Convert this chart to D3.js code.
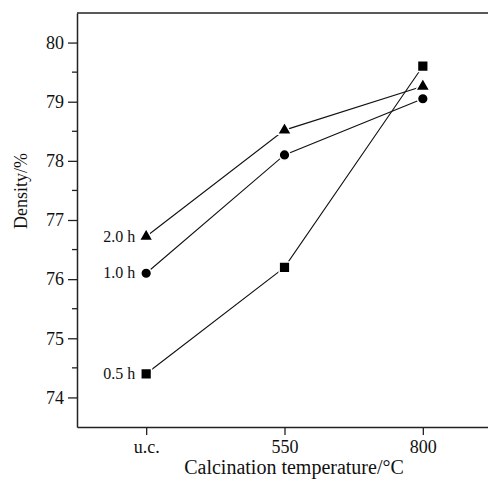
<!DOCTYPE html>
<html>
<head>
<meta charset="utf-8">
<script src="https://cdn.jsdelivr.net/npm/d3@7"></script>
<style>
    body { margin: 0; background: #fff; }
    svg { display: block; }
    text { font-family: "Liberation Serif", "DejaVu Serif", serif; fill: #111; }
</style>
</head>
<body>
<div id="chart"></div>
<script>
const temps = ["u.c.", "550", "800"];
const yTicks = [74, 75, 76, 77, 78, 79, 80];
const yMinorTicks = [74.5, 75.5, 76.5, 77.5, 78.5, 79.5];

const seriesNames = ["0.5 h", "1.0 h", "2.0 h"];
const density05 = [74.4, 76.2, 79.6];
const density10 = [76.1, 78.1, 79.05];
const density20 = [76.72, 78.52, 79.26];

const series = [
    { name: seriesNames[0], values: density05, symbol: d3.symbolSquare, size: 115 },
    { name: seriesNames[1], values: density10, symbol: d3.symbolCircle, size: 90 },
    { name: seriesNames[2], values: density20, symbol: d3.symbolTriangle, size: 85 }
];

function createVis() {
    const W = 488, H = 481;
    const margin = { top: 13, left: 77, bottom: 54 };

    const svg = d3.select("#chart").append("svg")
        .attr("width", W)
        .attr("height", H);

    const x = d3.scalePoint()
        .domain(temps)
        .range([margin.left, 492])
        .padding(0.5);

    const y = d3.scaleLinear()
        .domain([73.5, 80.5])
        .range([H - margin.bottom, margin.top]);

    // frame: top line
    svg.append("line")
        .attr("x1", margin.left).attr("x2", W)
        .attr("y1", y(80.5)).attr("y2", y(80.5))
        .attr("stroke", "#222").attr("stroke-width", 1.5);

    // y axis (major)
    const yAxis = svg.append("g")
        .attr("transform", `translate(${margin.left},0)`)
        .call(d3.axisLeft(y).tickValues(yTicks).tickFormat(d3.format("d"))
            .tickSize(9).tickSizeOuter(0).tickPadding(4));
    yAxis.select(".domain").attr("stroke", "#222").attr("stroke-width", 1.5);
    yAxis.selectAll(".tick line").attr("stroke", "#222").attr("stroke-width", 1.3);
    yAxis.selectAll(".tick text")
        .style("font-family", "Liberation Serif")
        .style("font-size", "18px")
        .attr("fill", "#111");

    // y axis (minor)
    svg.append("g")
        .attr("transform", `translate(${margin.left},0)`)
        .selectAll("line")
        .data(yMinorTicks)
        .join("line")
        .attr("x1", -5).attr("x2", 0)
        .attr("y1", d => y(d)).attr("y2", d => y(d))
        .attr("stroke", "#222").attr("stroke-width", 1.3);

    // x axis
    const xAxis = svg.append("g")
        .attr("transform", `translate(0,${y(73.5)})`)
        .call(d3.axisBottom(x).tickSize(8).tickSizeOuter(0).tickPadding(5));
    xAxis.select(".domain").attr("stroke", "#222").attr("stroke-width", 1.5);
    xAxis.selectAll(".tick line").attr("stroke", "#222").attr("stroke-width", 1.3);
    xAxis.selectAll(".tick text")
        .style("font-family", "Liberation Serif")
        .style("font-size", "18px")
        .attr("fill", "#111");

    // lines
    const line = d3.line()
        .x((d, i) => x(temps[i]))
        .y(d => y(d));

    svg.selectAll(".series-line")
        .data(series)
        .join("path")
        .attr("class", "series-line")
        .attr("d", d => line(d.values))
        .attr("fill", "none")
        .attr("stroke", "#111")
        .attr("stroke-width", 1.1);

    // markers
    series.forEach(s => {
        svg.append("g")
            .selectAll("path")
            .data(s.values)
            .join("path")
            .attr("transform", (d, i) => `translate(${x(temps[i])},${y(d)})`)
            .attr("d", d3.symbol().type(s.symbol).size(s.size))
            .attr("fill", "#000")
            .attr("stroke", "#fff")
            .attr("stroke-width", 1.5);

        // label left of the first point
        svg.append("text")
            .attr("x", x(temps[0]) - 11)
            .attr("y", y(s.values[0]) + 5)
            .attr("text-anchor", "end")
            .style("font-size", "16px")
            .text(s.name);
    });

    // axis titles
    svg.append("text")
        .attr("x", 294)
        .attr("y", 474)
        .attr("text-anchor", "middle")
        .style("font-size", "20px")
        .text("Calcination temperature/°C");

    svg.append("text")
        .attr("transform", "translate(27,191) rotate(-90)")
        .attr("text-anchor", "middle")
        .style("font-size", "18px")
        .text("Density/%");
}

createVis();
</script>
</body>
</html>
